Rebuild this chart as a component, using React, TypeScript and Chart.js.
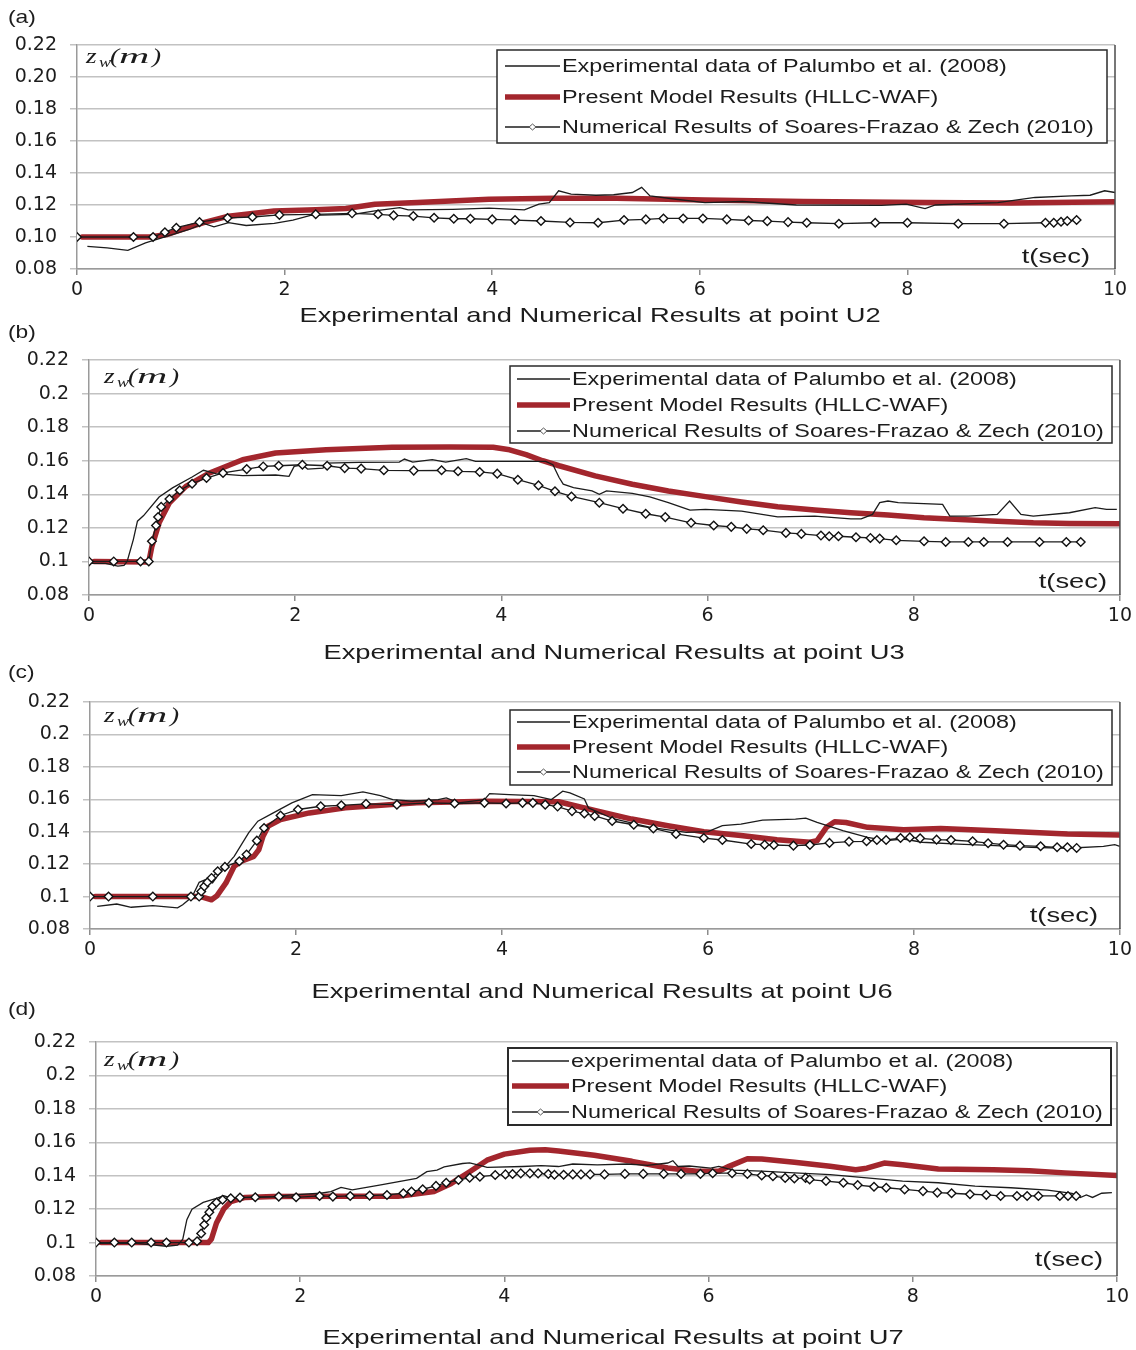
import React, { useEffect, useRef } from 'react';
import { Chart, registerables } from 'chart.js';
Chart.register(...registerables);

// ---------------- data ----------------
const X_TICKS = [0, 2, 4, 6, 8, 10];
const X_TICK_LABELS = ['0', '2', '4', '6', '8', '10'];
const Y_TICKS = [0.08, 0.1, 0.12, 0.14, 0.16, 0.18, 0.2, 0.22];
const Y_TICK_LABELS_A = ['0.08', '0.10', '0.12', '0.14', '0.16', '0.18', '0.20', '0.22'];
const Y_TICK_LABELS = ['0.08', '0.1', '0.12', '0.14', '0.16', '0.18', '0.2', '0.22'];

const LABEL_EXP = 'Experimental data of Palumbo et al. (2008)';
const LABEL_EXP_D = 'experimental data of Palumbo et al. (2008)';
const LABEL_MODEL = 'Present Model Results (HLLC-WAF)';
const LABEL_NUM = 'Numerical Results of Soares-Frazao & Zech (2010)';
const PANEL_TAGS = ['(a)', '(b)', '(c)', '(d)'];
const PANEL_TITLES = [
  'Experimental and Numerical Results at point U2',
  'Experimental and Numerical Results at point U3',
  'Experimental and Numerical Results at point U6',
  'Experimental and Numerical Results at point U7',
];

// U2
const U2_EXP = [[0.10,0.0942],[0.29,0.0932],[0.49,0.0917],[0.66,0.0963],[0.87,0.1005],[1.08,0.1047],[1.22,0.1085],[1.32,0.1064],[1.46,0.109],[1.63,0.1072],[1.90,0.1085],[2.08,0.1106],[2.25,0.1135],[2.66,0.1142],[2.87,0.1163],[3.11,0.1184],[3.19,0.1169],[3.62,0.1173],[3.97,0.118],[4.31,0.1169],[4.45,0.1205],[4.55,0.1215],[4.64,0.1289],[4.76,0.1268],[5.0,0.1261],[5.17,0.1264],[5.35,0.1278],[5.44,0.131],[5.52,0.1257],[5.77,0.1236],[6.05,0.1215],[6.41,0.1222],[6.93,0.12],[7.75,0.1198],[7.99,0.1205],[8.17,0.1178],[8.27,0.12],[8.87,0.1215],[9.23,0.1247],[9.58,0.1257],[9.76,0.1261],[9.90,0.1289],[10.0,0.1278]];
const U2_MODEL = [[0.05,0.10],[0.7,0.10],[0.87,0.1016],[1.05,0.1055],[1.22,0.109],[1.46,0.113],[1.9,0.1163],[2.3,0.117],[2.59,0.1178],[2.87,0.1205],[3.28,0.1215],[3.97,0.1236],[4.6,0.1242],[5.2,0.1242],[6.05,0.1232],[7.0,0.1222],[8.17,0.1215],[9.0,0.1213],[10.0,0.122]];
const U2_NUM = [[0,0.10],[0.544,0.10],[0.733,0.10],[0.847,0.103],[0.957,0.1058],[1.18,0.1093],[1.45,0.1119],[1.69,0.1125],[1.95,0.1138],[2.30,0.1142],[2.65,0.1148],[2.90,0.1142],[3.05,0.1135],[3.24,0.1131],[3.44,0.112],[3.63,0.1114],[3.79,0.1114],[4.0,0.111],[4.22,0.1106],[4.47,0.11],[4.75,0.1091],[5.02,0.1089],[5.27,0.1106],[5.48,0.111],[5.65,0.1116],[5.84,0.1116],[6.03,0.1116],[6.26,0.111],[6.47,0.1103],[6.65,0.1099],[6.85,0.1093],[7.03,0.1089],[7.34,0.1083],[7.69,0.1089],[8.0,0.1089],[8.49,0.1083],[8.93,0.1083],[9.33,0.1089],[9.41,0.1089],[9.48,0.1095],[9.54,0.11],[9.63,0.1106]];

// U3
const U3_EXP = [[0.03,0.0988],[0.16,0.0988],[0.28,0.0972],[0.34,0.0976],[0.37,0.10],[0.43,0.113],[0.47,0.124],[0.53,0.1273],[0.68,0.1384],[0.81,0.1438],[1.0,0.1503],[1.11,0.1543],[1.23,0.1523],[1.49,0.1511],[1.81,0.1515],[1.94,0.1507],[1.99,0.1566],[2.07,0.1576],[2.12,0.155],[2.27,0.1556],[2.30,0.1586],[2.62,0.159],[3.01,0.1592],[3.06,0.161],[3.14,0.1592],[3.33,0.1606],[3.46,0.1592],[3.66,0.1612],[3.75,0.1596],[4.24,0.1596],[4.43,0.1596],[4.50,0.1576],[4.56,0.15],[4.60,0.146],[4.70,0.144],[4.88,0.142],[4.95,0.14],[5.02,0.142],[5.27,0.1406],[5.44,0.1384],[5.62,0.135],[5.76,0.132],[5.83,0.1306],[5.98,0.131],[6.33,0.13],[6.68,0.1266],[7.04,0.127],[7.39,0.1254],[7.49,0.1254],[7.60,0.128],[7.67,0.135],[7.75,0.136],[7.85,0.135],[8.28,0.134],[8.35,0.127],[8.53,0.127],[8.81,0.128],[8.93,0.136],[9.04,0.128],[9.16,0.127],[9.51,0.129],[9.76,0.132],[9.87,0.131],[9.97,0.131]];
const U3_MODEL = [[0.05,0.10],[0.58,0.0996],[0.61,0.109],[0.68,0.123],[0.78,0.135],[0.94,0.1447],[1.17,0.1527],[1.49,0.1606],[1.81,0.1646],[2.30,0.1665],[2.94,0.168],[3.5,0.1682],[3.92,0.168],[4.08,0.1665],[4.24,0.1636],[4.40,0.160],[4.56,0.157],[4.91,0.151],[5.27,0.146],[5.62,0.142],[5.98,0.1386],[6.33,0.1354],[6.68,0.1326],[7.04,0.1306],[7.39,0.129],[7.75,0.1276],[8.1,0.126],[8.45,0.125],[8.81,0.124],[9.16,0.123],[9.51,0.1226],[10,0.1224]];
const U3_NUM = [[0,0.10],[0.24,0.10],[0.50,0.10],[0.58,0.10],[0.61,0.112],[0.65,0.1214],[0.67,0.1265],[0.70,0.1325],[0.78,0.1372],[0.88,0.1424],[1.0,0.1463],[1.14,0.1497],[1.30,0.1527],[1.53,0.155],[1.69,0.1566],[1.84,0.157],[2.07,0.1576],[2.31,0.157],[2.48,0.1556],[2.64,0.1553],[2.86,0.1543],[3.15,0.1541],[3.42,0.1543],[3.58,0.1537],[3.79,0.1533],[3.96,0.1523],[4.16,0.1487],[4.36,0.1453],[4.52,0.1418],[4.68,0.1387],[4.95,0.135],[5.18,0.1314],[5.40,0.1284],[5.59,0.1264],[5.84,0.123],[6.06,0.1214],[6.23,0.1206],[6.38,0.1194],[6.54,0.1186],[6.76,0.117],[6.91,0.1164],[7.10,0.1154],[7.18,0.115],[7.27,0.115],[7.44,0.1144],[7.58,0.114],[7.67,0.1136],[7.83,0.1126],[8.10,0.112],[8.31,0.1116],[8.53,0.1116],[8.68,0.1116],[8.91,0.1116],[9.22,0.1116],[9.48,0.1116],[9.62,0.1116]];

// U6
const U6_EXP = [[0.07,0.094],[0.26,0.0954],[0.40,0.0934],[0.61,0.0944],[0.85,0.093],[0.90,0.095],[0.99,0.0997],[1.06,0.1088],[1.12,0.1104],[1.19,0.1084],[1.26,0.1146],[1.40,0.1248],[1.54,0.1393],[1.63,0.1465],[1.78,0.1516],[1.96,0.1578],[2.16,0.1629],[2.44,0.1623],[2.65,0.1646],[2.82,0.1623],[2.94,0.1598],[3.13,0.1588],[3.38,0.1598],[3.46,0.1609],[3.58,0.1578],[3.83,0.1598],[3.88,0.1635],[4.07,0.1629],[4.31,0.1623],[4.48,0.1598],[4.59,0.165],[4.66,0.164],[4.80,0.1602],[4.84,0.1547],[5.08,0.148],[5.44,0.1427],[5.79,0.1396],[6.0,0.14],[6.14,0.1437],[6.32,0.1447],[6.53,0.1471],[6.85,0.1478],[6.95,0.1484],[7.06,0.1457],[7.31,0.1406],[7.55,0.1365],[7.73,0.1345],[7.9,0.1355],[8.08,0.1335],[8.43,0.1324],[8.79,0.1314],[9.14,0.1304],[9.49,0.1298],[9.84,0.131],[9.95,0.132],[10,0.131]];
const U6_MODEL = [[0.05,0.10],[1.05,0.10],[1.10,0.0995],[1.18,0.098],[1.23,0.1003],[1.32,0.1084],[1.40,0.1187],[1.47,0.1218],[1.59,0.1248],[1.64,0.129],[1.68,0.1372],[1.73,0.1434],[1.85,0.1475],[2.13,0.1516],[2.48,0.1547],[3.17,0.1578],[3.86,0.1588],[4.55,0.1585],[4.73,0.1557],[4.91,0.153],[5.26,0.1478],[5.61,0.1437],[5.96,0.14],[6.32,0.1376],[6.67,0.1351],[6.99,0.1335],[7.06,0.1345],[7.15,0.1427],[7.23,0.1461],[7.34,0.1457],[7.55,0.1427],[7.9,0.1412],[8.26,0.142],[8.79,0.1406],[9.49,0.1386],[10,0.138]];
const U6_NUM = [[0,0.10],[0.18,0.10],[0.61,0.10],[0.98,0.10],[1.06,0.10],[1.08,0.1032],[1.11,0.1063],[1.14,0.1088],[1.18,0.1115],[1.24,0.1156],[1.31,0.1183],[1.45,0.1218],[1.52,0.1259],[1.62,0.1345],[1.69,0.1423],[1.85,0.15],[2.02,0.1537],[2.24,0.1557],[2.44,0.1563],[2.68,0.1572],[2.98,0.1567],[3.29,0.1578],[3.54,0.1574],[3.83,0.1578],[4.04,0.1574],[4.20,0.1578],[4.30,0.1578],[4.42,0.1567],[4.54,0.1555],[4.68,0.1527],[4.80,0.1512],[4.90,0.1497],[5.07,0.1466],[5.28,0.1443],[5.47,0.142],[5.69,0.1386],[5.96,0.1361],[6.14,0.1349],[6.42,0.1324],[6.55,0.132],[6.64,0.1318],[6.83,0.1314],[6.99,0.1318],[7.18,0.1331],[7.37,0.1339],[7.54,0.1341],[7.64,0.1349],[7.73,0.1349],[7.87,0.1361],[7.96,0.1365],[8.06,0.1359],[8.22,0.1351],[8.36,0.1349],[8.57,0.1341],[8.72,0.1329],[8.87,0.132],[9.03,0.1314],[9.23,0.131],[9.39,0.1304],[9.49,0.1304],[9.58,0.13]];

// U7
const U7_EXP = [[0.0,0.0995],[0.4,0.0995],[0.69,0.0978],[0.80,0.0985],[0.85,0.102],[0.89,0.1137],[0.94,0.12],[1.05,0.124],[1.18,0.1265],[1.25,0.128],[1.32,0.1268],[1.46,0.127],[1.74,0.1275],[1.92,0.1285],[2.2,0.1295],[2.3,0.1305],[2.40,0.133],[2.51,0.1315],[2.79,0.1345],[3.14,0.1384],[3.24,0.1424],[3.34,0.1434],[3.41,0.1453],[3.59,0.1473],[3.66,0.1477],[3.76,0.1462],[3.83,0.145],[4.18,0.1455],[4.36,0.146],[4.53,0.1455],[4.67,0.147],[4.91,0.1465],[5.2,0.147],[5.4,0.1462],[5.6,0.1476],[5.65,0.149],[5.7,0.1455],[5.81,0.1458],[6.02,0.1446],[6.1,0.1456],[6.24,0.1433],[6.52,0.1427],[6.84,0.1417],[7.19,0.1407],[7.55,0.1387],[7.9,0.1368],[8.25,0.1358],[8.61,0.1338],[8.96,0.1328],[9.32,0.1314],[9.56,0.1295],[9.64,0.1269],[9.70,0.1285],[9.76,0.127],[9.85,0.1295],[9.95,0.1299]];
const U7_MODEL = [[0.05,0.10],[1.10,0.10],[1.13,0.102],[1.18,0.1117],[1.25,0.12],[1.32,0.1245],[1.46,0.127],[1.74,0.1275],[2.44,0.1277],[2.96,0.1277],[3.31,0.1305],[3.48,0.1354],[3.66,0.1424],[3.83,0.1493],[4.0,0.1529],[4.25,0.1552],[4.4,0.1555],[4.53,0.1548],[4.88,0.1522],[5.25,0.1486],[5.6,0.1446],[5.88,0.1427],[6.1,0.1427],[6.2,0.1456],[6.38,0.1502],[6.52,0.15],[6.84,0.148],[7.19,0.1456],[7.44,0.1436],[7.55,0.1445],[7.72,0.1476],[7.9,0.1466],[8.25,0.144],[8.79,0.1436],[9.14,0.143],[9.49,0.1417],[10,0.1401]];
const U7_NUM = [[0,0.10],[0.18,0.10],[0.35,0.10],[0.54,0.10],[0.69,0.10],[0.91,0.10],[0.99,0.1008],[1.03,0.1054],[1.06,0.1107],[1.08,0.1147],[1.11,0.1182],[1.14,0.1216],[1.18,0.124],[1.24,0.1256],[1.32,0.1265],[1.41,0.1269],[1.56,0.1271],[1.79,0.1275],[1.96,0.1271],[2.19,0.1279],[2.32,0.1275],[2.49,0.1279],[2.68,0.1281],[2.85,0.1285],[3.01,0.1295],[3.09,0.1305],[3.20,0.1319],[3.33,0.1339],[3.43,0.1358],[3.55,0.1374],[3.66,0.1388],[3.76,0.1394],[3.91,0.1404],[4.01,0.1408],[4.08,0.141],[4.16,0.1414],[4.25,0.1414],[4.33,0.1414],[4.43,0.141],[4.49,0.1406],[4.58,0.1406],[4.67,0.1408],[4.75,0.1408],[4.84,0.1408],[4.98,0.1408],[5.18,0.1411],[5.36,0.1411],[5.56,0.1411],[5.73,0.1411],[5.92,0.1411],[6.04,0.1415],[6.23,0.1415],[6.38,0.1411],[6.52,0.1401],[6.63,0.1397],[6.75,0.1387],[6.84,0.1383],[6.95,0.1387],[6.99,0.1377],[7.15,0.1368],[7.32,0.1358],[7.46,0.1344],[7.62,0.1334],[7.74,0.1328],[7.92,0.1318],[8.10,0.1308],[8.24,0.1299],[8.38,0.1295],[8.56,0.1289],[8.72,0.1285],[8.86,0.1279],[9.02,0.1279],[9.12,0.1279],[9.23,0.1279],[9.44,0.1279],[9.52,0.1279],[9.60,0.1279]];

// ---------------- layout / style ----------------
const W = 1136;
const RED = '#a3262d';
const INK = '#1c1c1c';
const SANS = '"Liberation Sans", Arial, sans-serif';
const SX = 1.3;

type Layout = {
  top: number; h: number;
  left: number; right: number; ctop: number; cbottom: number;
  tagY: number; titleX: number; titleY: number;
  tX: number; tY: number; zX: number; zY: number;
  box: [number, number, number, number];
  rows: [number, number, number];
  lineX: [number, number]; textX: number; boxW: number;
};

const LAYOUTS: Layout[] = [
  { top: 0, h: 330, left: 77, right: 1115, ctop: 45, cbottom: 269, tagY: 18, titleX: 590, titleY: 316,
    tX: 1090, tY: 257, zX: 86, zY: 63, box: [497, 50, 1107, 143], rows: [66, 97, 127], lineX: [505, 560], textX: 562, boxW: 1.5 },
  { top: 322, h: 345, left: 89, right: 1120, ctop: 360, cbottom: 595, tagY: 333, titleX: 614, titleY: 653,
    tX: 1107, tY: 582, zX: 104, zY: 383, box: [510, 366, 1112, 443], rows: [379, 405, 431], lineX: [517, 570], textX: 572, boxW: 1.5 },
  { top: 662, h: 345, left: 90, right: 1121, ctop: 702, cbottom: 929, tagY: 673, titleX: 602, titleY: 992,
    tX: 1098, tY: 916, zX: 104, zY: 722, box: [510, 710, 1112, 785], rows: [722, 747, 772], lineX: [517, 570], textX: 572, boxW: 1.5 },
  { top: 998, h: 352, left: 96, right: 1117, ctop: 1042, cbottom: 1276, tagY: 1010, titleX: 613, titleY: 1338,
    tX: 1103, tY: 1260, zX: 104, zY: 1066, box: [508, 1048, 1111, 1125], rows: [1061, 1086, 1112], lineX: [512, 569], textX: 571, boxW: 2 },
];

const PANELS = [
  { exp: U2_EXP, model: U2_MODEL, num: U2_NUM, expLabel: LABEL_EXP, yLabels: Y_TICK_LABELS_A },
  { exp: U3_EXP, model: U3_MODEL, num: U3_NUM, expLabel: LABEL_EXP, yLabels: Y_TICK_LABELS },
  { exp: U6_EXP, model: U6_MODEL, num: U6_NUM, expLabel: LABEL_EXP, yLabels: Y_TICK_LABELS },
  { exp: U7_EXP, model: U7_MODEL, num: U7_NUM, expLabel: LABEL_EXP_D, yLabels: Y_TICK_LABELS },
];

function stretchText(ctx: CanvasRenderingContext2D, s: string, x: number, y: number, font: string,
  align: CanvasTextAlign, baseline: CanvasTextBaseline, sx = SX) {
  ctx.save();
  ctx.translate(x, y);
  ctx.scale(sx, 1);
  ctx.font = font;
  ctx.textAlign = align;
  ctx.textBaseline = baseline;
  ctx.fillStyle = INK;
  ctx.fillText(s, 0, 0);
  ctx.restore();
}

function diamond(ctx: CanvasRenderingContext2D, cx: number, cy: number, r: number) {
  ctx.beginPath();
  ctx.moveTo(cx - r * 1.15, cy);
  ctx.lineTo(cx, cy - r);
  ctx.lineTo(cx + r * 1.15, cy);
  ctx.lineTo(cx, cy + r);
  ctx.closePath();
  ctx.fillStyle = '#fff';
  ctx.fill();
  ctx.stroke();
}

const decorPlugin = {
  id: 'decor',
  afterDraw(chart: any, _args: any, opts: any) {
    const L: Layout = opts.layout;
    const off = L.top;
    const ctx: CanvasRenderingContext2D = chart.ctx;
    const ca = chart.chartArea;
    ctx.save();
    // right frame line
    ctx.strokeStyle = '#4a4a4a';
    ctx.lineWidth = 1.5;
    ctx.beginPath();
    ctx.moveTo(ca.right, ca.top);
    ctx.lineTo(ca.right, ca.bottom);
    ctx.stroke();

    stretchText(ctx, opts.tag, 8, L.tagY - off, `19px ${SANS}`, 'left', 'middle', 1.2);
    stretchText(ctx, opts.title, L.titleX, L.titleY - off, `21px ${SANS}`, 'center', 'middle');
    stretchText(ctx, 't(sec)', L.tX, L.tY - off, `21px ${SANS}`, 'right', 'middle');

    // z_w(m)
    const zf = 'italic 21px "Liberation Serif", serif';
    const zx = L.zX, zy = L.zY - off;
    stretchText(ctx, 'z', zx, zy, zf, 'left', 'alphabetic');
    stretchText(ctx, 'w', zx + 13, zy + 4, 'italic 14px "Liberation Serif", serif', 'left', 'alphabetic');
    stretchText(ctx, '(', zx + 24, zy, zf, 'left', 'alphabetic');
    stretchText(ctx, 'm', zx + 33, zy, zf, 'left', 'alphabetic', 2.0);
    stretchText(ctx, ')', zx + 66, zy, zf, 'left', 'alphabetic');

    // legend
    const [bx0, by0, bx1, by1] = L.box;
    ctx.fillStyle = '#fff';
    ctx.fillRect(bx0, by0 - off, bx1 - bx0, by1 - by0);
    ctx.strokeStyle = '#2a2a2a';
    ctx.lineWidth = L.boxW;
    ctx.strokeRect(bx0, by0 - off, bx1 - bx0, by1 - by0);
    const ds = chart.data.datasets;
    [0, 1, 2].forEach((di, i) => {
      const d = ds[di];
      const y = L.rows[i] - off;
      ctx.strokeStyle = d.borderColor;
      ctx.lineWidth = d.borderWidth;
      ctx.beginPath();
      ctx.moveTo(L.lineX[0], y);
      ctx.lineTo(L.lineX[1], y);
      ctx.stroke();
      if (d.pointStyle === 'rectRot') {
        ctx.strokeStyle = '#555';
        ctx.lineWidth = 1;
        diamond(ctx, (L.lineX[0] + L.lineX[1]) / 2, y, 3);
      }
      stretchText(ctx, d.label, L.textX, y + 1, `18px ${SANS}`, 'left', 'middle');
    });
    ctx.restore();
  },
};

const toXY = (arr: number[][]) => arr.map(([x, y]) => ({ x, y }));

function Panel({ idx }: { idx: number }) {
  const ref = useRef<HTMLCanvasElement>(null);
  const L = LAYOUTS[idx];
  const P = PANELS[idx];
  useEffect(() => {
    const tickFont = { family: '"DejaVu Sans", sans-serif', size: 19 };
    const chart = new Chart(ref.current as HTMLCanvasElement, {
      type: 'line',
      data: {
        datasets: [
          { label: P.expLabel, data: toXY(P.exp), borderColor: INK, borderWidth: 1.3, pointRadius: 0, order: 1, tension: 0 },
          { label: LABEL_MODEL, data: toXY(P.model), borderColor: RED, borderWidth: 5.5, pointRadius: 0, order: 2, tension: 0,
            borderCapStyle: 'round', borderJoinStyle: 'round' },
          { label: LABEL_NUM, data: toXY(P.num), borderColor: INK, borderWidth: 1.3, order: 0, tension: 0,
            pointStyle: 'rectRot', pointRadius: 4.3, pointBackgroundColor: '#fff', pointBorderColor: '#111', pointBorderWidth: 1.4 },
        ] as any,
      },
      options: {
        responsive: false,
        animation: false,
        events: [],
        layout: { autoPadding: false, padding: { left: 0, top: L.ctop - L.top, right: W - L.right, bottom: 0 } } as any,
        plugins: {
          legend: { display: false },
          tooltip: { enabled: false },
          decor: { layout: L, tag: PANEL_TAGS[idx], title: PANEL_TITLES[idx] },
        } as any,
        scales: {
          x: {
            type: 'linear', min: 0, max: 10,
            afterBuildTicks: (s: any) => { s.ticks = X_TICKS.map((v) => ({ value: v })); },
            afterFit: (s: any) => { s.height = L.top + L.h - L.cbottom; },
            ticks: { callback: (_v: any, i: number) => X_TICK_LABELS[i], font: tickFont, color: INK, padding: 4, maxRotation: 0, autoSkip: false },
            grid: { drawOnChartArea: false, drawTicks: true, tickLength: 6, color: '#8c8c8c', lineWidth: 1.5 },
            border: { color: '#9a9a9a', width: 1.5 },
          },
          y: {
            type: 'linear', min: 0.08, max: 0.22,
            afterBuildTicks: (s: any) => { s.ticks = Y_TICKS.map((v) => ({ value: v })); },
            afterFit: (s: any) => { s.width = L.left; },
            ticks: { callback: (_v: any, i: number) => P.yLabels[i], font: tickFont, color: INK, padding: 13, autoSkip: false },
            grid: { color: '#c2c2c2', lineWidth: 1.5, tickLength: 7, drawTicks: true },
            border: { color: '#9a9a9a', width: 1.5 },
          },
        } as any,
      },
      plugins: [decorPlugin as any],
    });
    return () => chart.destroy();
  }, []);
  return (
    <canvas ref={ref} width={W} height={L.h}
      style={{ position: 'absolute', left: 0, top: L.top, width: W, height: L.h }} />
  );
}

export default function App() {
  return (
    <div style={{ position: 'absolute', left: 0, top: 0, width: W, height: 1350, background: '#fff' }}>
      {[0, 1, 2, 3].map((i) => <Panel key={i} idx={i} />)}
    </div>
  );
}
